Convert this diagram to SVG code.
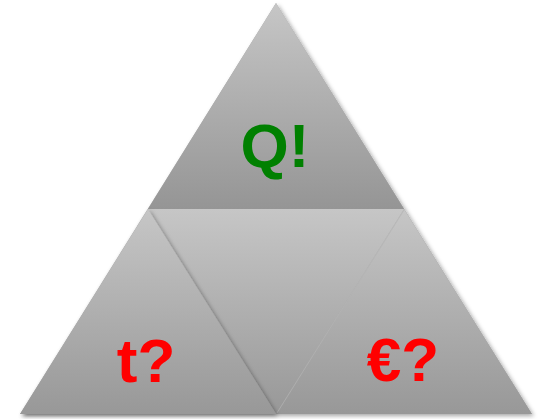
<svg xmlns="http://www.w3.org/2000/svg" width="538" height="419" viewBox="0 0 538 419">
<defs>
<linearGradient id="gTop" x1="0" y1="3" x2="0" y2="209" gradientUnits="userSpaceOnUse">
<stop offset="0" stop-color="#c6c6c6"/><stop offset="1" stop-color="#959595"/>
</linearGradient>
<linearGradient id="gBot" x1="0" y1="209" x2="0" y2="414" gradientUnits="userSpaceOnUse">
<stop offset="0" stop-color="#c6c6c6"/><stop offset="1" stop-color="#989898"/>
</linearGradient>
<filter id="sh" x="-10%" y="-10%" width="120%" height="120%">
<feDropShadow dx="2" dy="2" stdDeviation="2" flood-color="#000" flood-opacity="0.35"/>
</filter>
</defs>
<style>
.lbl{font-family:"Liberation Sans",Arial,sans-serif;font-weight:bold;font-size:62px;text-anchor:middle}
.g{fill:#008000}.r{fill:#ff0000}
</style>
<g id="triangle-base" filter="url(#sh)">
<polygon points="276,3 20,414 532,414" fill="#a8a8a8"/>
</g>
<g id="node-top">
<polygon points="276,3 148,209 404,209" fill="url(#gTop)"/>
<text class="lbl g" x="275" y="167">Q!</text>
</g>
<g id="node-middle">
<polygon points="148,209 404,209 276,414" fill="url(#gBot)"/>
</g>
<g id="node-right">
<polygon points="404,209 532,414 276,414" fill="url(#gBot)"/>
<line x1="404" y1="210" x2="277" y2="413" stroke="#b4b4b4" stroke-width="1" stroke-opacity="0.7"/>
<text class="lbl r" x="403" y="381">€?</text>
</g>
<g id="node-left" filter="url(#sh)">
<polygon points="148,209 20,414 276,414" fill="url(#gBot)"/>
<text class="lbl r" x="146" y="382">t?</text>
</g>
<g id="connectors"></g>
</svg>
